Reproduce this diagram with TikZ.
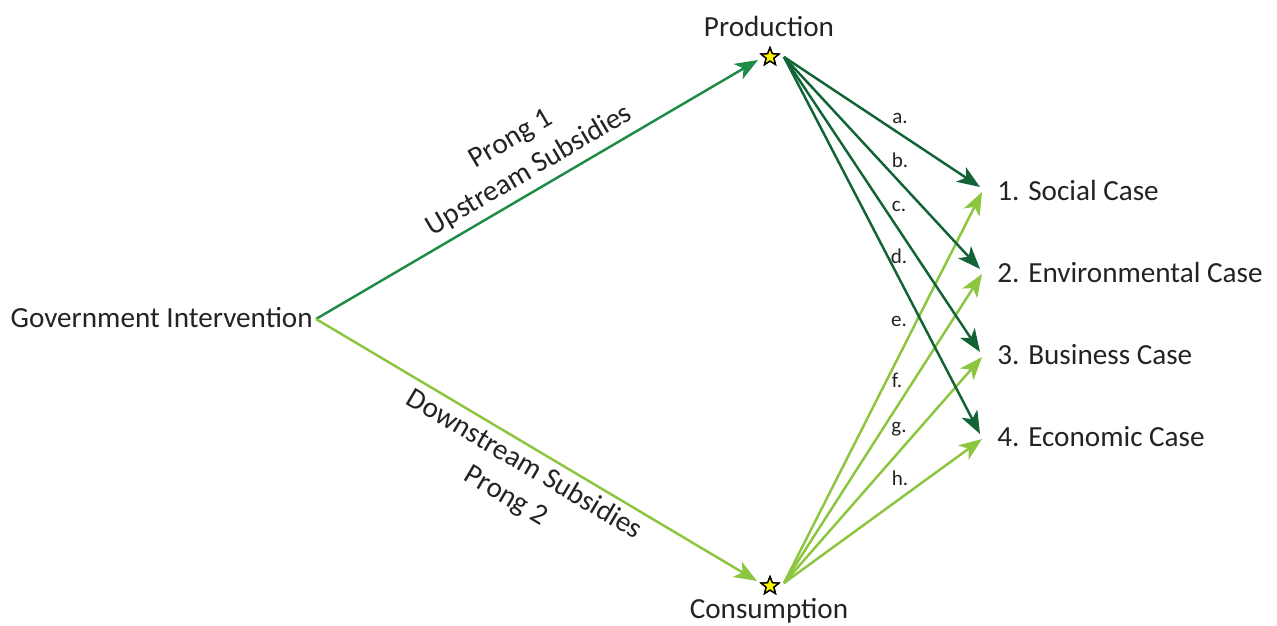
\documentclass[tikz,border=0pt]{standalone}
\usepackage{fontspec}
\setmainfont{Carlito}
\usetikzlibrary{arrows.meta,shapes.geometric}
\definecolor{upg}{RGB}{30,140,70}
\definecolor{dkg}{RGB}{18,100,55}
\definecolor{ltg}{RGB}{140,198,63}
\definecolor{txt}{RGB}{35,35,35}
\begin{document}
\begin{tikzpicture}[x=0.02cm,y=-0.02cm,
  lbl/.style={font=\fontsize{16.6}{20.6}\selectfont, text=txt, inner sep=0},
  small/.style={font=\fontsize{12}{14}\selectfont, text=txt, inner sep=0},
  arr/.style={line width=1.4pt, -{Stealth[length=13pt,width=10pt,inset=3.5pt]}},
  starnode/.style={star, star points=5, star point ratio=2.3, fill=yellow, draw=black, line width=0.8pt, minimum size=10.5pt, inner sep=0}]
\useasboundingbox (0,0) rectangle (1277,625);
% main nodes
\node[lbl, anchor=east] (gov) at (313,318) {Government Intervention};
\coordinate (g) at (316,319);
\node[starnode] (ps) at (770,57) {};
\node[starnode] (cs) at (770,586) {};
\node[lbl] (prod) at (769,26) {Production};
\node[lbl] (cons) at (769,611) {Consumption};
\coordinate (po) at (784,57);
\coordinate (co) at (784,583);
% cases
\node[lbl, anchor=west] (c1) at (997,190) {1. Social Case};
\node[lbl, anchor=west] (c2) at (997,272) {2. Environmental Case};
\node[lbl, anchor=west] (c3) at (997,355) {3. Business Case};
\node[lbl, anchor=west] (c4) at (997,437) {4. Economic Case};
\coordinate (d1) at (980,187);
\coordinate (d2) at (980,269);
\coordinate (d3) at (980,352);
\coordinate (d4) at (980,434);
\coordinate (l1) at (982,192);
\coordinate (l2) at (982,274);
\coordinate (l3) at (982,357);
\coordinate (l4) at (982,439);
% prongs
\draw[arr, upg] (g) -- (758,60) coordinate (pe);
\draw[arr, ltg] (g) -- (757,581) coordinate (ce);
% light arrows from consumption
\foreach \t in {l1,l2,l3,l4} \draw[arr, ltg] (co) -- (\t);
% dark arrows from production
\foreach \t in {d1,d2,d3,d4} \draw[arr, dkg] (po) -- (\t);
% redraw stars on top
\node[starnode] at (ps) {};
\node[starnode] at (cs) {};
% prong labels
\node[lbl, align=center, rotate=30.4] (p1) at (520.5,155.5) {Prong 1\\Upstream Subsidies};
\node[lbl, align=center, rotate=-30.6] (p2) at (515,480.5) {Downstream Subsidies\\Prong 2};
% letter labels
\node[small] (la) at (900,118) {a.};
\node[small] (lb) at (900,160) {b.};
\node[small] (lc) at (899,206) {c.};
\node[small] (ld) at (899,256) {d.};
\node[small] (le) at (899,321) {e.};
\node[small] (lf) at (897,380) {f.};
\node[small] (lg) at (899,429) {g.};
\node[small] (lh) at (900,478) {h.};
\end{tikzpicture}
\end{document}
